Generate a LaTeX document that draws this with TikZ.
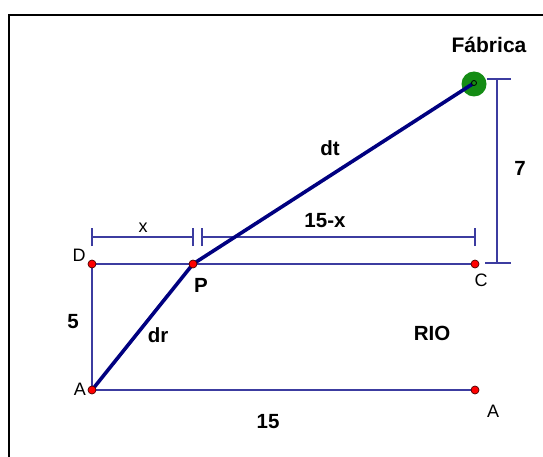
\documentclass[tikz,border=0pt]{standalone}
\usepackage{fontspec}
\setmainfont{Liberation Sans}
\definecolor{thinblue}{RGB}{60,60,160}
\definecolor{thickblue}{RGB}{0,0,128}
\definecolor{fgreen}{RGB}{20,140,20}
\begin{document}
\begin{tikzpicture}[x=1pt,y=-1pt,
  thin line/.style={draw=thinblue,line width=1.3pt},
  thick line/.style={draw=thickblue,line width=3.6pt,line cap=round},
  dim/.style={draw=thinblue,line width=1.3pt},
  dot/.style={circle,fill=red,draw=black!70!red,line width=0.7pt,minimum size=8pt,inner sep=0pt},
  blab/.style={font=\fontsize{20.5}{24}\selectfont\bfseries,inner sep=0pt},
  rlab/.style={font=\fontsize{18}{21}\selectfont,inner sep=0pt}]
\useasboundingbox (0,0) rectangle (543,457);
\fill[white] (0,0) rectangle (543,457);
% frame
\draw[black,line width=2pt] (9,457) -- (9,15) -- (543,15);
% coordinates
\coordinate (D) at (92,264);
\coordinate (P) at (193,264);
\coordinate (C) at (475,264);
\coordinate (A) at (92,390);
\coordinate (A2) at (475,390);
\coordinate (F) at (474,83);
% thin lines
\draw[thin line] (D) -- (C);
\draw[thin line] (D) -- (A);
\draw[thin line] (A) -- (A2);
% dimension x
\coordinate (x1) at (92,237);
\coordinate (x2) at (193,237);
\coordinate (y1) at (202,237);
\coordinate (y2) at (475,237);
\draw[dim] (x1) -- (x2);
\draw[dim] ([yshift=-9]x1) -- ([yshift=9]x1);
\draw[dim] ([yshift=-9]x2) -- ([yshift=9]x2);
\draw[dim] (y1) -- (y2);
\draw[dim] ([yshift=-9]y1) -- ([yshift=9]y1);
\draw[dim] ([yshift=-9]y2) -- ([yshift=9]y2);
% dimension 7
\coordinate (s1) at (497,79);
\coordinate (s2) at (497,263);
\draw[dim] (s1) -- (s2);
\draw[dim] (487,79) -- (511,79);
\draw[dim] (485,263) -- (511,263);
% green factory
\fill[fgreen] (F) ++(0,1) circle (12.5);
% thick lines
\draw[thick line] (A) -- (P) -- (F);
\draw[black,fill=fgreen,line width=0.8pt] (F) circle (2.5);
% dots
\node[dot] (nD) at (D) {};
\node[dot] (nP) at (P) {};
\node[dot] (nC) at (C) {};
\node[dot] (nA) at (A) {};
\node[dot] (nA2) at (A2) {};
% labels
\node[blab,font=\fontsize{21}{24}\selectfont\bfseries] (lF) at (489,45) {Fábrica};
\node[blab] (ldt) at (330,148) {dt};
\node[blab] (l7) at (520,168) {7};
\node[rlab] (lx) at (143,228) {x};
\node[blab] (l15x) at (325,221) {15-x};
\node[rlab] (lD) at (79,255) {D};
\node[blab] (lP) at (201,285) {P};
\node[rlab] (lC) at (481,280) {C};
\node[blab] (l5) at (73,322) {5};
\node[blab] (ldr) at (158,335) {dr};
\node[blab] (lRIO) at (432,333) {RIO};
\node[rlab] (lA) at (80,389) {A};
\node[rlab] (lA2) at (493,411) {A};
\node[blab] (l15) at (268,422) {15};
\end{tikzpicture}
\end{document}
